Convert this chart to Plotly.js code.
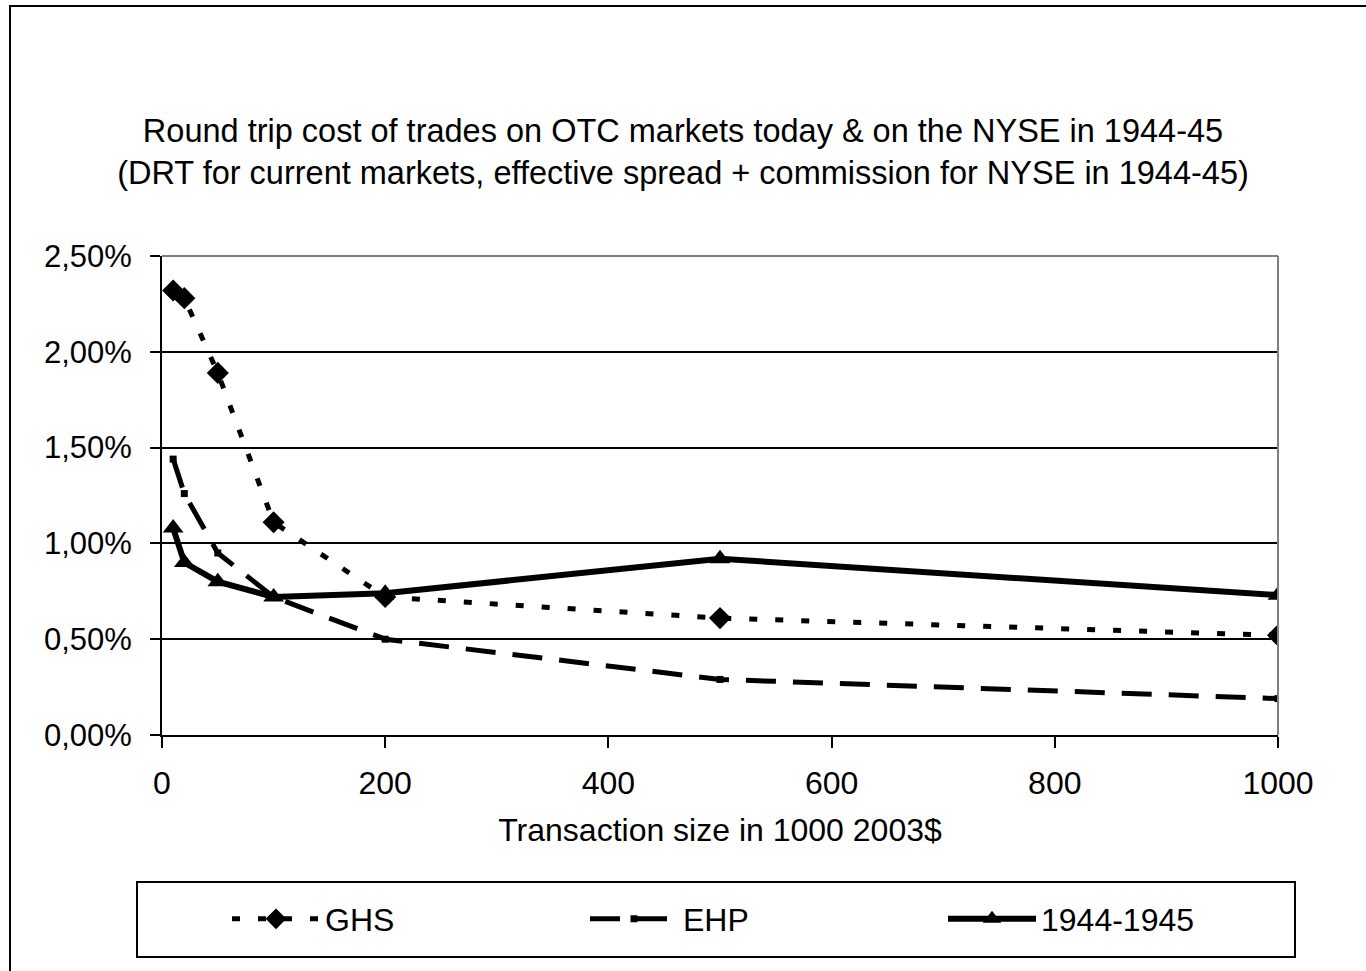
<!DOCTYPE html>
<html>
<head>
<meta charset="utf-8">
<script src="https://cdn.plot.ly/plotly-3.0.1.min.js"></script>
<style>
  html, body { margin: 0; padding: 0; background: #ffffff; }
  #chart { width: 1366px; height: 971px; }
</style>
</head>
<body>
<div id="chart"></div>
<script>
// Transaction size in 1000 2003$
var sizes = [10, 20, 50, 100, 200, 500, 1000];
// Round trip cost, in percent
var ghsCost = [2.32, 2.28, 1.89, 1.11, 0.72, 0.61, 0.52];
var ehpCost = [1.44, 1.26, 0.95, 0.72, 0.50, 0.29, 0.19];
var nyseCost = [1.08, 0.90, 0.80, 0.72, 0.74, 0.92, 0.73];
var seriesNames = ['GHS', 'EHP', '1944-1945'];
var xTicks = [0, 200, 400, 600, 800, 1000];
var yTicks = [0, 0.5, 1.0, 1.5, 2.0, 2.5];
var yTickLabels = ['0,00%', '0,50%', '1,00%', '1,50%', '2,00%', '2,50%'];

var FONT = 'Liberation Sans, Arial, sans-serif';

var traces = [
  {
    x: sizes, y: ghsCost, name: seriesNames[0], type: 'scatter', mode: 'lines+markers',
    line: {color: '#000000', width: 5, dash: '8px,18px'},
    marker: {symbol: 'diamond', size: 17, color: '#000000'}
  },
  {
    x: sizes, y: ehpCost, name: seriesNames[1], type: 'scatter', mode: 'lines+markers',
    line: {color: '#000000', width: 5, dash: '30px,17px'},
    marker: {symbol: 'square', size: 7, color: '#000000'}
  },
  {
    x: sizes, y: nyseCost, name: seriesNames[2], type: 'scatter', mode: 'lines+markers',
    line: {color: '#000000', width: 6},
    marker: {symbol: 'triangle-up', size: 18, color: '#000000'}
  }
];

// plot area in pixels: left 162, right 1278, top 256, bottom 735
function px(x) { return (x - 162) / 1116; }
function py(y) { return (735 - y) / 479; }

var layout = {
  width: 1366, height: 971,
  paper_bgcolor: '#ffffff', plot_bgcolor: '#ffffff',
  margin: {l: 162, r: 88, t: 256, b: 236},
  separators: ',.',
  font: {family: FONT, size: 32, color: '#000000'},
  title: {
    text: 'Round trip cost of trades on OTC markets today & on the NYSE in 1944-45<br>(DRT for current markets, effective spread + commission for NYSE in 1944-45)',
    font: {family: FONT, size: 32.5, color: '#000000'},
    x: 0.5, xanchor: 'center', xref: 'container',
    y: 1 - 142 / 971, yanchor: 'top', yref: 'container'
  },
  xaxis: {
    range: [0, 1000], tickvals: xTicks, ticktext: xTicks.map(String),
    showgrid: false, zeroline: false,
    showline: true, linecolor: '#000000', linewidth: 2,
    ticks: 'outside', ticklen: 11, tickwidth: 2, tickcolor: '#000000',
    ticklabelstandoff: 8,
    tickfont: {family: FONT, size: 32, color: '#000000'},
    title: {text: 'Transaction size in 1000 2003$', font: {family: FONT, size: 32, color: '#000000'}, standoff: 18}
  },
  yaxis: {
    range: [0, 2.5], tickvals: yTicks, ticktext: yTickLabels,
    showgrid: true, gridcolor: '#000000', gridwidth: 2, zeroline: false,
    showline: true, linecolor: '#000000', linewidth: 2,
    ticks: 'outside', ticklen: 10, tickwidth: 2, tickcolor: '#000000',
    ticklabelstandoff: 12,
    tickfont: {family: FONT, size: 31, color: '#000000'}
  },
  showlegend: true,
  legend: {
    orientation: 'h', xref: 'paper', yref: 'paper',
    x: px(227), xanchor: 'left', y: py(919), yanchor: 'middle',
    bgcolor: 'rgba(0,0,0,0)', borderwidth: 0,
    itemwidth: 88, entrywidth: 255, entrywidthmode: 'pixels',
    font: {family: FONT, size: 32, color: '#000000'},
    itemclick: false, itemdoubleclick: false
  },
  shapes: [
    // gray top and right border of plot area
    {type: 'line', xref: 'paper', yref: 'paper', x0: 0, x1: 1, y0: 1, y1: 1, line: {color: '#808080', width: 2}},
    {type: 'line', xref: 'paper', yref: 'paper', x0: 1, x1: 1, y0: 0, y1: 1, line: {color: '#808080', width: 2}},
    // legend box
    {type: 'rect', xref: 'paper', yref: 'paper', x0: px(137), x1: px(1295), y0: py(957), y1: py(882), line: {color: '#000000', width: 2}, fillcolor: 'rgba(0,0,0,0)'},
    // chart area border (right and bottom edges lie beyond the picture)
    {type: 'rect', xref: 'paper', yref: 'paper', x0: px(10), x1: px(1380), y0: py(985), y1: py(6), line: {color: '#000000', width: 2}, fillcolor: 'rgba(0,0,0,0)'}
  ]
};

Plotly.newPlot('chart', traces, layout, {displayModeBar: false, staticPlot: true});
</script>
</body>
</html>
